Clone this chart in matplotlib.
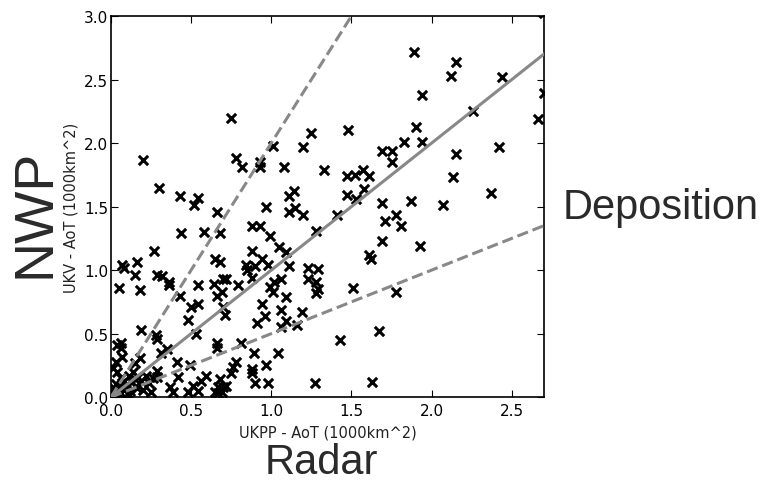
import matplotlib
matplotlib.use("Agg")
import matplotlib.pyplot as plt
import numpy as np

# Area of threat (1000 km^2): radar (UKPP) vs NWP (UKV)
radar = [
    1.89, 2.15, 2.12, 2.44, 2.70, 1.94, 2.70, 2.66, 2.26, 1.48, 1.90, 1.94, 2.42, 1.83,
    1.69, 1.75, 1.75, 2.15, 2.13, 2.37, 1.33, 1.47, 1.52, 1.57, 1.61, 1.47, 1.53, 1.58,
    1.69, 1.87, 2.07, 1.41, 1.71, 1.78, 1.81, 1.69, 1.93, 1.61, 1.62, 1.51, 1.78, 1.43,
    1.67, 1.63,
    0.75, 0.20, 0.30, 0.43, 0.54, 0.52, 0.78, 0.82, 0.93, 0.93, 1.01, 1.08, 1.20, 1.25,
    1.14, 1.11, 1.15, 0.97, 0.66, 1.11, 1.20, 0.44, 0.58, 0.68, 0.88, 0.93, 0.99, 1.28,
    0.27, 0.88, 1.05, 1.09, 0.94, 1.11, 1.23, 1.29, 0.05, 0.07, 0.08, 0.16, 0.15, 0.18,
    0.29, 0.32, 0.36, 0.36, 0.43, 0.54, 0.50, 0.54, 0.48, 0.65, 0.68, 0.64, 0.66, 0.70,
    0.72, 0.70, 0.71, 0.79, 0.84, 0.85, 0.90, 0.98, 0.88, 0.99, 1.02, 1.06, 1.01, 1.09,
    1.23, 1.28, 1.29, 1.28, 0.69, 0.94, 1.06, 0.96, 1.19, 0.91, 1.09, 1.06, 1.16, 0.81,
    0.66, 0.66, 0.89, 1.04, 0.78, 0.76, 0.75, 0.88, 0.88, 0.97, 0.90, 0.98, 1.27, 0.72,
    0.69, 0.67, 0.68, 0.53, 0.19, 0.28, 0.29, 0.04, 0.06, 0.07, 0.03, 0.01, 0.04, 0.18,
    0.15, 0.31, 0.35, 0.41, 0.29, 0.29, 0.49, 0.42, 0.37, 0.39, 0.51, 0.48, 0.59, 0.56,
    0.65, 0.54, 0.67, 0.70, 0.11, 0.14, 0.17, 0.13, 0.19, 0.22, 0.24, 0.07, 0.09, 0.16,
    0.20, 0.25, 0.02, 0.03, 0.06, 0.11, 0.26, 0.02, 0.04, 0.05, 0.08, 0.01, 0.03, 0.10,
    0.06, 0.12, 0.15, 0.06,
]
nwp = [
    2.72, 2.64, 2.53, 2.52, 3.02, 2.38, 2.39, 2.19, 2.25, 2.10, 2.13, 2.01, 1.97, 2.01,
    1.94, 1.94, 1.85, 1.91, 1.73, 1.61, 1.79, 1.74, 1.75, 1.79, 1.74, 1.59, 1.56, 1.64,
    1.53, 1.54, 1.51, 1.43, 1.39, 1.43, 1.35, 1.23, 1.19, 1.12, 1.09, 0.86, 0.83, 0.45,
    0.52, 0.12,
    2.20, 1.87, 1.65, 1.58, 1.57, 1.51, 1.88, 1.81, 1.85, 1.81, 1.98, 1.81, 1.97, 2.08,
    1.62, 1.58, 1.49, 1.50, 1.46, 1.46, 1.43, 1.29, 1.30, 1.29, 1.35, 1.35, 1.27, 1.31,
    1.15, 1.15, 1.18, 1.14, 1.09, 1.03, 1.02, 1.01, 0.86, 1.04, 1.02, 1.06, 0.96, 0.84,
    0.96, 0.95, 0.91, 0.88, 0.80, 0.88, 0.71, 0.73, 0.61, 1.09, 1.06, 0.89, 0.80, 0.93,
    0.93, 0.71, 0.65, 0.88, 1.04, 1.00, 1.03, 1.04, 0.94, 0.87, 0.91, 0.93, 0.83, 0.79,
    0.93, 0.91, 0.85, 0.82, 0.83, 0.73, 0.69, 0.64, 0.67, 0.58, 0.60, 0.55, 0.57, 0.43,
    0.43, 0.39, 0.35, 0.35, 0.28, 0.24, 0.19, 0.22, 0.19, 0.25, 0.11, 0.11, 0.11, 0.09,
    0.04, 0.03, 0.14, 0.50, 0.53, 0.49, 0.46, 0.41, 0.39, 0.32, 0.28, 0.23, 0.20, 0.31,
    0.27, 0.35, 0.38, 0.28, 0.21, 0.16, 0.25, 0.16, 0.08, 0.04, 0.09, 0.04, 0.17, 0.13,
    0.04, 0.05, 0.08, 0.08, 0.17, 0.20, 0.16, 0.12, 0.13, 0.17, 0.11, 0.11, 0.07, 0.07,
    0.06, 0.04, 0.07, 0.02, 0.03, 0.02, 0.15, 0.02, 0.05, 0.03, 0.06, 0.01, 0.10, 0.10,
    0.15, 0.05, 0.14, 0.43,
]

# reference lines: 1:1, 2:1 and 1:2
ratios = [1.0, 2.0, 0.5]
styles = ['-', '--', '--']

fig = plt.figure(figsize=(7.65, 4.85), dpi=100)
ax = fig.add_axes([0.145, 0.179, 0.566, 0.786])

ax.scatter(radar, nwp, marker='x', s=45, color='black', linewidths=2.2, zorder=2)

xline = np.array([0.0, 3.0])
for r, ls in zip(ratios, styles):
    ax.plot(xline, r * xline, linestyle=ls, color='#888888', linewidth=2.2, zorder=3)

ax.set_xlim(0, 2.7)
ax.set_ylim(0, 3.0)
ax.set_xticks([0.0, 0.5, 1.0, 1.5, 2.0, 2.5])
ax.set_yticks([0.0, 0.5, 1.0, 1.5, 2.0, 2.5, 3.0])
ax.tick_params(direction='in', top=True, right=True, labelsize=11, length=5, pad=2)
ax.tick_params(axis='x', pad=4)
for sp in ax.spines.values():
    sp.set_linewidth(1.2)

ax.set_xlabel('UKPP - AoT (1000km^2)', fontsize=10.5, color='#222222', labelpad=5)
ax.set_ylabel('UKV - AoT (1000km^2)', fontsize=10.5, color='#222222', labelpad=4)

big = ['Liberation Sans', 'DejaVu Sans']
fig.text(0.046, 0.56, 'NWP', rotation=90, ha='center', va='center',
         fontsize=40, color='#2a2a2a', family=big)
fig.text(0.42, 0.045, 'Radar', ha='center', va='center',
         fontsize=30, color='#2a2a2a', family=big)
fig.text(0.735, 0.571, 'Deposition', ha='left', va='center',
         fontsize=30, color='#2a2a2a', family=big)

fig.savefig('out.png', dpi=100, facecolor='white')
